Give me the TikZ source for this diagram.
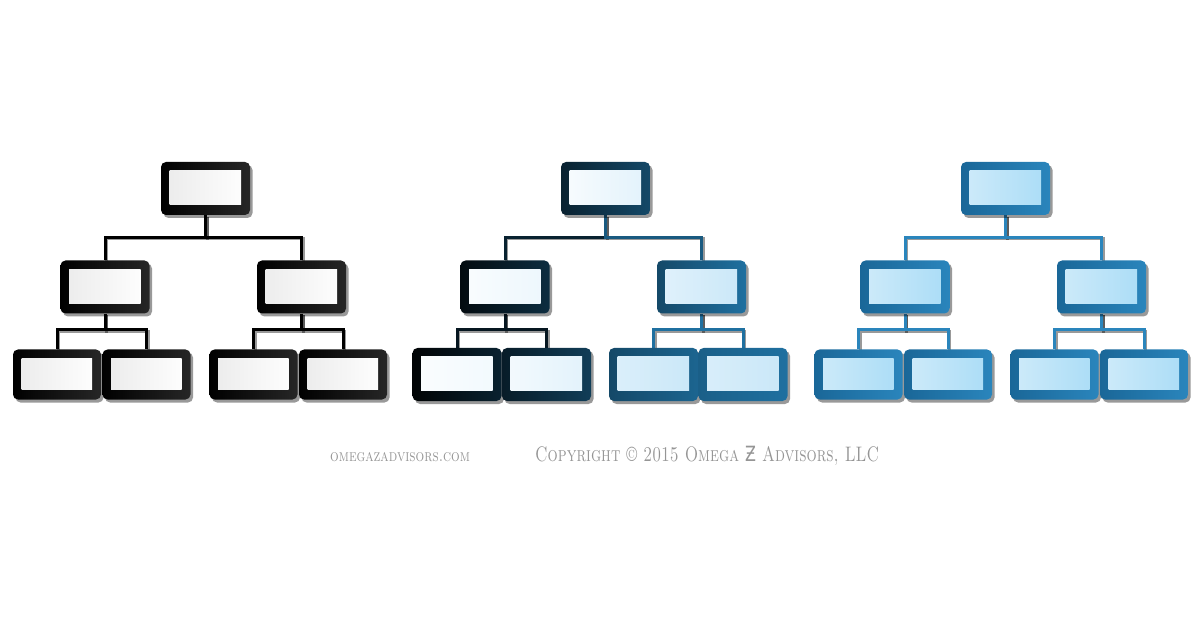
\documentclass[tikz,border=0pt]{standalone}
\usepackage{fontspec}
\newfontfamily\djv{DejaVu Sans}
\usetikzlibrary{shadows}
\pgfdeclarelayer{background}
\pgfsetlayers{background,main}
\definecolor{blueM}{HTML}{1F70A0}
\definecolor{blueR1}{HTML}{1A6798}
\definecolor{blueR2}{HTML}{2A85BC}
\definecolor{inR}{HTML}{A9DCF6}
\definecolor{inRl}{HTML}{CFEBFA}
\definecolor{inM}{HTML}{C9E7F8}
\definecolor{txt}{HTML}{959595}
\tikzset{
 obox/.style n args={4}{rectangle, rounded corners=5pt, minimum width=89pt, minimum height=53pt, inner sep=0pt,
   left color=#1, right color=#2,
   drop shadow={shadow xshift=2.5pt, shadow yshift=-3pt, opacity=.4, fill=black},
   path picture={\shade[sharp corners, left color=#3, right color=#4]
     ([xshift=8.5pt,yshift=-9pt]path picture bounding box.north west) rectangle
     ([xshift=-9pt,yshift=10pt]path picture bounding box.south east);}},
 sbox/.style={minimum width=88pt, minimum height=50pt},
 conn/.style={line width=3pt, draw=#1,
   preaction={draw=black, opacity=.4, line width=3pt, transform canvas={shift={(1.5pt,-1.5pt)}}}},
}
\begin{document}
\begin{tikzpicture}[x=1pt,y=-1pt]
\useasboundingbox (0,0) rectangle (1200,628);

% ---------- left tree (black) ----------
\node[obox={black}{black!85}{black!8}{white}] (aT) at (205.5,188.5) {};
\node[obox={black}{black!85}{black!8}{white}] (aL) at (105,287) {};
\node[obox={black}{black!85}{black!8}{white}] (aR) at (301.5,287) {};
\node[obox={black}{black!85}{black!8}{white},sbox] (aLL) at (57,374.5) {};
\node[obox={black}{black!85}{black!8}{white},sbox] (aLR) at (146.5,374.5) {};
\node[obox={black}{black!85}{black!8}{white},sbox] (aRL) at (253.5,374.5) {};
\node[obox={black}{black!85}{black!8}{white},sbox] (aRR) at (343,374.5) {};

% ---------- middle tree (dark to blue) ----------
\node[obox={blueM!30!black}{blueM!65!black}{white!88!inM}{white!45!inM}] (bT) at (605.5,188.5) {};
\node[obox={blueM!10!black}{blueM!40!black}{white!90!inM}{white!65!inM}] (bL) at (505,287) {};
\node[obox={blueM!65!black}{blueM}{white!45!inM}{inM}] (bR) at (701.5,287) {};
\node[obox={blueM!3!black}{blueM!30!black}{white!92!inM}{white!75!inM}] (bLL) at (457,374.5) {};
\node[obox={blueM!25!black}{blueM!55!black}{white!80!inM}{white!45!inM}] (bLR) at (546.5,374.5) {};
\node[obox={blueM!65!black}{blueM!90!black}{white!35!inM}{inM}] (bRL) at (653.5,374.5) {};
\node[obox={blueM!85!black}{blueM}{white!30!inM}{inM}] (bRR) at (743,374.5) {};

% ---------- right tree (blue) ----------
\node[obox={blueR1}{blueR2}{inRl}{inR}] (cT) at (1005.5,188.5) {};
\node[obox={blueR1}{blueR2}{inRl}{inR}] (cL) at (905,287) {};
\node[obox={blueR1}{blueR2}{inRl}{inR}] (cR) at (1101.5,287) {};
\node[obox={blueR1}{blueR2}{inRl}{inR},sbox] (cLL) at (858.5,374.5) {};
\node[obox={blueR1}{blueR2}{inRl}{inR},sbox] (cLR) at (948,374.5) {};
\node[obox={blueR1}{blueR2}{inRl}{inR},sbox] (cRL) at (1054.5,374.5) {};
\node[obox={blueR1}{blueR2}{inRl}{inR},sbox] (cRR) at (1144,374.5) {};

% ---------- connectors ----------
\begin{pgfonlayer}{background}
\draw[conn=black] (aT.south) -- ++(0,22) -| (aL.north);
\draw[conn=black] (aT.south) -- ++(0,22) -| (aR.north);
\draw[conn=black] (aL.south) -- ++(0,16) -| (aLL.north);
\draw[conn=black] (aL.south) -- ++(0,16) -| (aLR.north);
\draw[conn=black] (aR.south) -- ++(0,16) -| (aRL.north);
\draw[conn=black] (aR.south) -- ++(0,16) -| (aRR.north);

\draw[conn=blueM!30!black] (bT.south) -- ++(0,22) -| (bL.north);
\draw[conn=blueM!80!black] (bT.south) -- ++(0,22) -| (bR.north);
\draw[conn=blueM!20!black] (bL.south) -- ++(0,16) -| (bLL.north);
\draw[conn=blueM!20!black] (bL.south) -- ++(0,16) -| (bLR.north);
\draw[conn=blueM] (bR.south) -- ++(0,16) -| (bRL.north);
\draw[conn=blueM] (bR.south) -- ++(0,16) -| (bRR.north);

\draw[conn=blueR2] (cT.south) -- ++(0,22) -| (cL.north);
\draw[conn=blueR2] (cT.south) -- ++(0,22) -| (cR.north);
\draw[conn=blueR2] (cL.south) -- ++(0,16) -| (cLL.north);
\draw[conn=blueR2] (cL.south) -- ++(0,16) -| (cLR.north);
\draw[conn=blueR2] (cR.south) -- ++(0,16) -| (cRL.north);
\draw[conn=blueR2] (cR.south) -- ++(0,16) -| (cRR.north);
\end{pgfonlayer}

% ---------- text ----------
\node[text=txt, font=\fontsize{17}{20}\selectfont, anchor=base west, inner sep=0pt] (url) at (330,461)
  {\scalebox{0.8}[1]{\textsc{omegazadvisors.com}}};
\node[text=txt, font=\fontsize{21}{25}\selectfont, anchor=base west, inner sep=0pt] (copy) at (535,461)
  {\scalebox{0.76}[1]{\textsc{Copyright \textcopyright\ 2015 Omega {\djv Ƶ} Advisors, LLC}}};
\end{tikzpicture}
\end{document}
